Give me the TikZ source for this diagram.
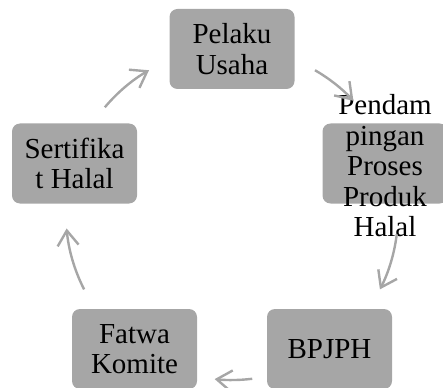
\documentclass[tikz,border=0pt]{standalone}
\usepackage{fontspec}
\setmainfont{Liberation Serif}
\usepackage{xcolor}
\usepackage{tikz}
\usetikzlibrary{arrows.meta,positioning,calc}
\definecolor{cellgray}{HTML}{A6A6A6}
\definecolor{arcgray}{HTML}{A6A6A6}
\tikzset{
  cell/.style   ={rounded corners=8pt,fill=cellgray,draw=none,minimum width=125pt,
                  minimum height=80pt,inner sep=0pt,align=center,
                  font=\fontsize{29}{30.5}\selectfont},
  celltxt/.style={inner sep=0pt,align=center,font=\fontsize{29}{30.5}\selectfont},
  cyc/.style    ={-{Straight Barb[length=15pt,width=21pt,line width=2.4pt]},
                  line width=2.4pt,draw=arcgray}
}
\begin{document}
\begin{tikzpicture}[x=1pt,y=1pt]
  \useasboundingbox (0,0) rectangle (443,-387);
  \coordinate (c) at (232,-214);
  % boxes of the cycle
  \node[cell] (pelaku) at (232,-49) {Pelaku\\Usaha};
  \node[cell] (pend) at (385,-163.5) {};
  \node[celltxt] (pendtxt) at (385,-166) {Pendam\\pingan\\Proses\\Produk\\Halal};
  \node[cell] (bpjph) at (329.5,-349) {BPJPH};
  \node[cell] (fatwa) at (134.5,-349) {Fatwa\\Komite};
  \node[cell] (sert) at (74.5,-163.5) {Sertifika\\t Halal};
  % arcs between the boxes
  \foreach \n/\a/\b in {1/60/43,2/-7/-27,3/-83/-96,4/207/185,5/140/120}
    \coordinate (s\n) at ($(c)+(\a:166)$);
  \draw[cyc] (s1) arc[start angle=60,end angle=43,radius=166];
  \draw[cyc] (s2) arc[start angle=-7,end angle=-27,radius=166];
  \draw[cyc] (s3) arc[start angle=-83,end angle=-96,radius=166];
  \draw[cyc] (s4) arc[start angle=207,end angle=185,radius=166];
  \draw[cyc] (s5) arc[start angle=140,end angle=120,radius=166];
\end{tikzpicture}
\end{document}
